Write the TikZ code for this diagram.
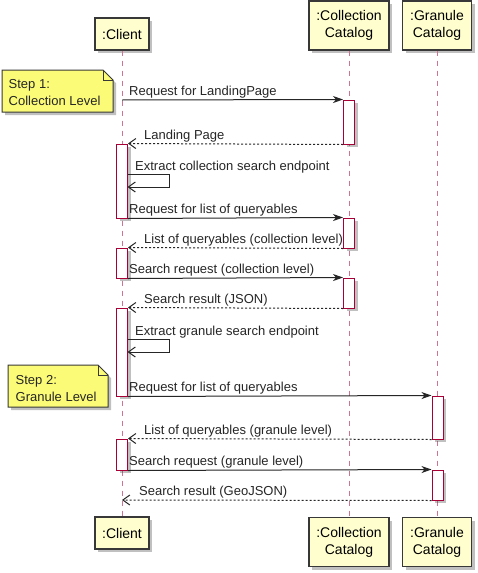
\documentclass[tikz,border=0pt]{standalone}
\usepackage{fontspec}
\setmainfont{Liberation Sans}
\usepackage{xcolor}
\usetikzlibrary{arrows.meta,shadows}

\definecolor{partfill}{HTML}{FEFECE}
\definecolor{notefill}{HTML}{FBFB77}
\definecolor{lifecol}{HTML}{A80036}
\definecolor{edgecol}{HTML}{383838}

\tikzset{
  softshadow/.style={drop shadow={shadow xshift=3pt, shadow yshift=-3pt, opacity=0.35, fill=black!70}},
  participant/.style={draw=edgecol, line width=1.2pt, fill=partfill, align=center, inner sep=0pt,
    font=\fontsize{14}{17}\selectfont, softshadow},
  actbox/.style={draw=lifecol, line width=1pt, fill=white, minimum width=11pt, inner sep=0pt, softshadow},
  lifeline/.style={draw=lifecol!55, line width=1pt, dash pattern=on 5pt off 5pt},
  msg/.style={draw=black!85, line width=1pt, -{Stealth[length=10pt,width=7pt,inset=3pt]}},
  ret/.style={msg, dash pattern=on 2pt off 2pt, -{Straight Barb[length=7pt,width=10pt]}},
  selfmsg/.style={msg, -{Straight Barb[length=7pt,width=10pt]}},
  lbl/.style={anchor=base west, inner sep=0pt, text=black!85, font=\fontsize{13}{15}\selectfont},
  notebox/.style={draw=edgecol, line width=1pt, fill=notefill, softshadow},
  notetext/.style={anchor=north west, inner sep=0pt, align=left, text=black!85, font=\fontsize{13}{16.5}\selectfont}
}

\begin{document}
\begin{tikzpicture}[x=1pt,y=-1pt]
  \useasboundingbox[fill=white] (0,0) rectangle (478,573);

  % Participants
  \node[participant, minimum width=54pt, minimum height=32pt] (clientTop) at (122,34) {:Client};
  \node[participant, minimum width=80pt, minimum height=49pt] (collTop) at (349,25.5) {:Collection\\Catalog};
  \node[participant, minimum width=69pt, minimum height=49pt] (granTop) at (437,25.5) {:Granule\\Catalog};
  \node[participant, minimum width=54pt, minimum height=32pt] (clientBot) at (122,533) {:Client};
  \node[participant, minimum width=80pt, minimum height=49pt] (collBot) at (349,542) {:Collection\\Catalog};
  \node[participant, minimum width=69pt, minimum height=49pt] (granBot) at (437,542) {:Granule\\Catalog};

  % Lifelines
  \draw[lifeline] (clientTop.south) -- (clientBot.north);
  \draw[lifeline] (collTop.south) -- (collBot.north);
  \draw[lifeline] (granTop.south) -- (granBot.north);

  % Activations
  \node[actbox, minimum height=44pt] (ca1) at (349,122) {};
  \node[actbox, minimum height=30pt] (ca2) at (349,233) {};
  \node[actbox, minimum height=30pt] (ca3) at (349,293) {};
  \node[actbox, minimum height=43pt] (ga1) at (437.5,417.5) {};
  \node[actbox, minimum height=30pt] (ga2) at (437.5,485) {};
  \node[actbox, minimum height=74pt] (cl1) at (122,181) {};
  \node[actbox, minimum height=30pt] (cl2) at (122,263) {};
  \node[actbox, minimum height=88pt] (cl3) at (122,352) {};
  \node[actbox, minimum height=31pt] (cl4) at (122,454.5) {};

  % Messages
  \coordinate (start1) at (122,100);
  \draw[msg] (start1) -- (ca1.north west);
  \node[lbl] (t1) at (129,95) {Request for LandingPage};
  \draw[ret] (ca1.south west) -- (cl1.north east);
  \node[lbl] (t2) at (144,139) {Landing Page};

  \coordinate (self1a) at (127.5,174);
  \coordinate (self1b) at (127.5,187);
  \draw[selfmsg] (self1a) -- ++(41.5,0) |- (self1b);
  \node[lbl] (t3) at (135,170) {Extract collection search endpoint};

  \draw[msg] (cl1.south east) -- (ca2.north west);
  \node[lbl] (t4) at (129,213) {Request for list of queryables};
  \draw[ret] (ca2.south west) -- (cl2.north east);
  \node[lbl] (t5) at (144,243) {List of queryables (collection level)};
  \draw[msg] (cl2.south east) -- (ca3.north west);
  \node[lbl] (t6) at (129,273) {Search request (collection level)};
  \draw[ret] (ca3.south west) -- (cl3.north east);
  \node[lbl] (t7) at (144,303) {Search result (JSON)};

  \coordinate (self2a) at (127.5,339);
  \coordinate (self2b) at (127.5,352);
  \draw[selfmsg] (self2a) -- ++(41.5,0) |- (self2b);
  \node[lbl] (t8) at (135,335) {Extract granule search endpoint};

  \draw[msg] (cl3.south east) -- (ga1.north west);
  \node[lbl] (t9) at (129,391) {Request for list of queryables};
  \draw[ret] (ga1.south west) -- (cl4.north east);
  \node[lbl] (t10) at (144,434) {List of queryables (granule level)};
  \draw[msg] (cl4.south east) -- (ga2.north west);
  \node[lbl] (t11) at (129,465) {Search request (granule level)};
  \coordinate (end12) at (122,500);
  \draw[ret] (ga2.south west) -- (end12);
  \node[lbl] (t12) at (139,495) {Search result (GeoJSON)};

  % Notes
  \draw[notebox] (2,70) -- (103,70) -- (113,80) -- (113,112) -- (2,112) -- cycle;
  \draw[draw=edgecol, line width=1pt] (103,70) -- (103,80) -- (113,80);
  \node[notetext] (note1) at (8.5,79.5) {Step 1:\\Collection Level};
  \draw[notebox] (8,365) -- (98,365) -- (108,375) -- (108,407) -- (8,407) -- cycle;
  \draw[draw=edgecol, line width=1pt] (98,365) -- (98,375) -- (108,375);
  \node[notetext] (note2) at (15.5,375.5) {Step 2:\\Granule Level};
\end{tikzpicture}
\end{document}
